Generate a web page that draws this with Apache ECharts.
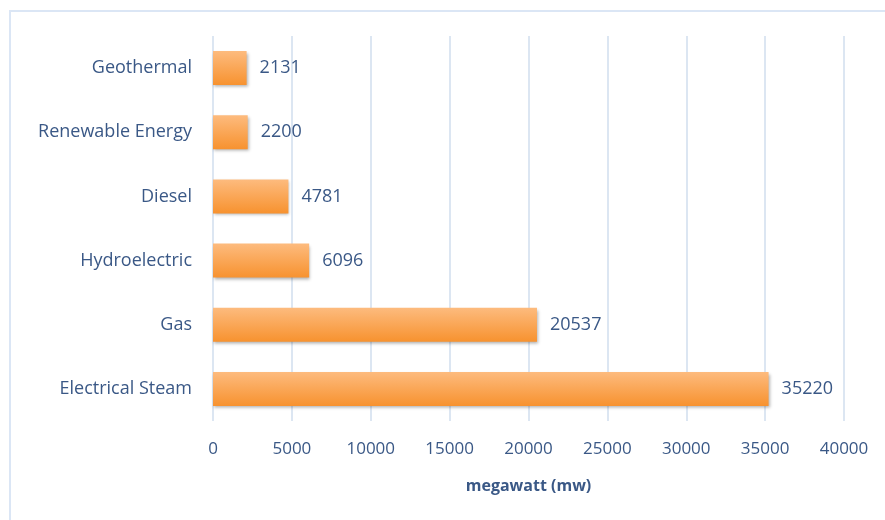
<!DOCTYPE html>
<html>
<head>
<meta charset="utf-8">
<script src="https://cdn.jsdelivr.net/npm/echarts@6/dist/echarts.min.js"></script>
<style>
  html, body { margin: 0; padding: 0; background: #fff; }
  #chart { width: 885px; height: 520px; }
</style>
</head>
<body>
<div id="chart"></div>
<script>
// data
const categories = ['Electrical Steam', 'Gas', 'Hydroelectric', 'Diesel', 'Renewable Energy', 'Geothermal'];
const capacity = [35220, 20537, 6096, 4781, 2200, 2131];
const axisName = 'megawatt (mw)';

const textColor = '#3a5886';
const font = '"Open Sans", sans-serif';

let chart = echarts.init(document.getElementById('chart'));
chart.setOption({
  animation: false,
  graphic: [
    {
      type: 'rect',
      shape: { x: 10, y: 11, width: 900, height: 540 },
      style: { fill: 'none', stroke: '#dbe6f5', lineWidth: 2 },
      silent: true
    }
  ],
  grid: {
    top: 36,
    left: 213,
    right: 41,
    bottom: 99
  },
  xAxis: {
    type: 'value',
    min: 0,
    max: 40000,
    interval: 5000,
    name: axisName,
    nameLocation: 'middle',
    nameGap: 57,
    nameTextStyle: { color: textColor, fontFamily: font, fontSize: 16, fontWeight: 'bold' },
    axisLine: { show: false },
    axisTick: { show: false },
    axisLabel: {
      color: textColor, fontFamily: font, fontSize: 17, margin: 20,
      formatter: (v) => String(v)
    },
    splitLine: { lineStyle: { color: '#dce6f2', width: 2 } }
  },
  yAxis: {
    type: 'category',
    data: categories,
    axisLine: { show: false },
    axisTick: { show: false },
    axisLabel: { color: textColor, fontFamily: font, fontSize: 18, margin: 21 }
  },
  series: [
    {
      type: 'bar',
      data: capacity,
      barWidth: '53%',
      itemStyle: {
        color: new echarts.graphic.LinearGradient(0, 0, 0, 1, [
          { offset: 0, color: '#fdbb7e' },
          { offset: 1, color: '#f7922f' }
        ]),
        shadowColor: 'rgba(0,0,0,0.3)',
        shadowBlur: 3,
        shadowOffsetX: 1,
        shadowOffsetY: 2
      },
      label: {
        show: true,
        position: 'right',
        distance: 13,
        color: textColor,
        fontFamily: font,
        fontSize: 18
      }
    }
  ]
});
</script>
</body>
</html>
